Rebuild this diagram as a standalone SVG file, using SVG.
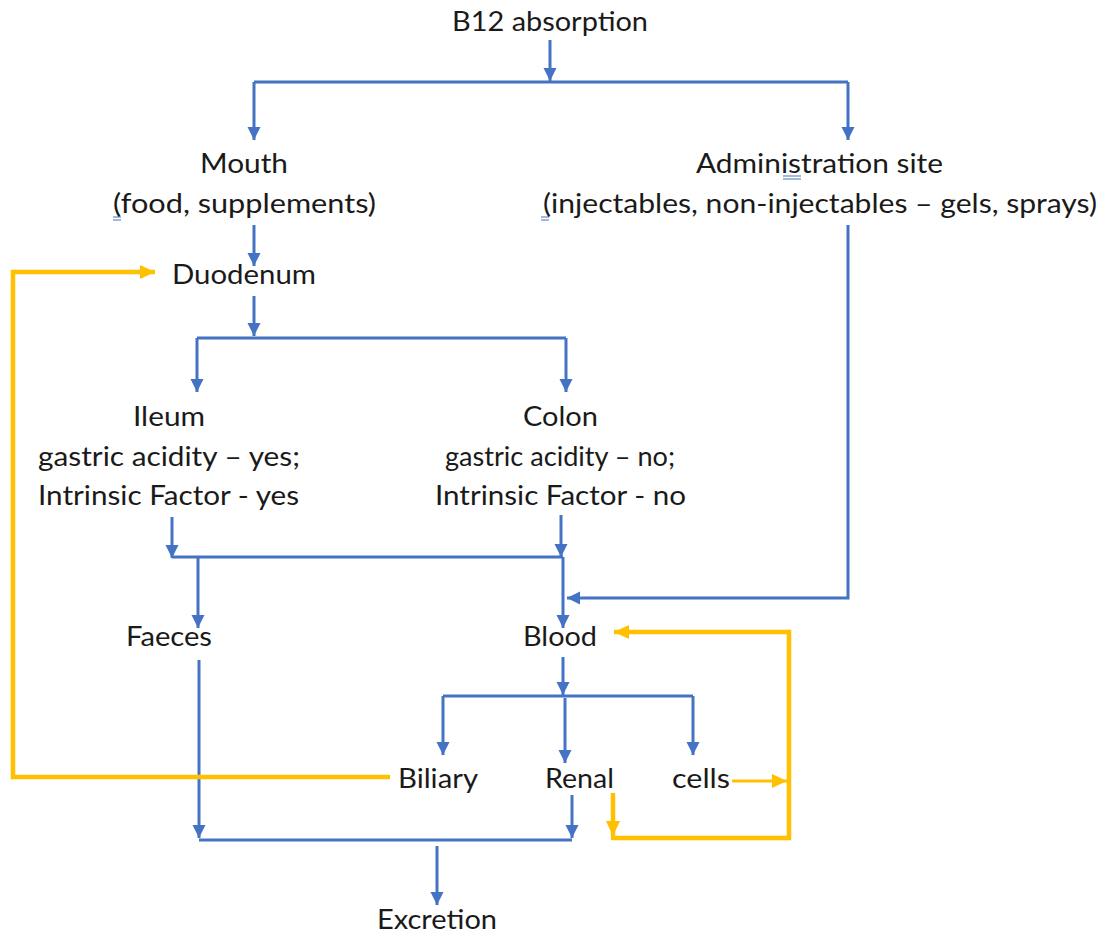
<svg xmlns="http://www.w3.org/2000/svg" width="1104" height="936" viewBox="0 0 1104 936">
<style>
text{font-family:Lato,"Open Sans","Liberation Sans",sans-serif;font-size:27px;fill:#1a1a1a;text-anchor:middle}
.b{fill:none;stroke:#4472C4;stroke-width:3}
.y{fill:none;stroke:#FFC000;stroke-width:4.5}
.yt{fill:none;stroke:#FFC000;stroke-width:3}
.mk{fill:none;stroke:#4472C4;stroke-width:1.2}
</style>
<defs>
<marker id="ab" markerUnits="userSpaceOnUse" markerWidth="14" markerHeight="14" refX="13" refY="7" orient="auto"><path d="M0,0.5 L13,7 L0,13.5 z" fill="#4472C4"/></marker>
<marker id="ay" markerUnits="userSpaceOnUse" markerWidth="16" markerHeight="16" refX="15" refY="8" orient="auto"><path d="M0,1 L15,8 L0,15 z" fill="#FFC000"/></marker>
</defs>
<rect width="1104" height="936" fill="#ffffff"/>
<g id="connectors">
<path class="b" d="M550,40 V81" marker-end="url(#ab)"/>
<path class="b" d="M254,82 H848"/>
<path class="b" d="M254,82 V140" marker-end="url(#ab)"/>
<path class="b" d="M848,82 V140" marker-end="url(#ab)"/>
<path class="b" d="M254,225 V266" marker-end="url(#ab)"/>
<path class="b" d="M254,296 V336" marker-end="url(#ab)"/>
<path class="b" d="M197,338 H566"/>
<path class="b" d="M197,338 V392" marker-end="url(#ab)"/>
<path class="b" d="M566,338 V392" marker-end="url(#ab)"/>
<path class="b" d="M172,517 V558" marker-end="url(#ab)"/>
<path class="b" d="M561,515 V557" marker-end="url(#ab)"/>
<path class="b" d="M172,557 H563"/>
<path class="b" d="M198,557 V628" marker-end="url(#ab)"/>
<path class="b" d="M563,557 V628" marker-end="url(#ab)"/>
<path class="b" d="M848,225 V598 H567" marker-end="url(#ab)"/>
<path class="b" d="M563,657 V695" marker-end="url(#ab)"/>
<path class="b" d="M443,696 H693"/>
<path class="b" d="M443,696 V755" marker-end="url(#ab)"/>
<path class="b" d="M565,698 V763" marker-end="url(#ab)"/>
<path class="b" d="M693,696 V755" marker-end="url(#ab)"/>
<path class="b" d="M199,660 V838" marker-end="url(#ab)"/>
<path class="b" d="M199,840 H572"/>
<path class="b" d="M572,795 V838" marker-end="url(#ab)"/>
<path class="b" d="M437,846 V905" marker-end="url(#ab)"/>
<path class="y" d="M390,777 H13 V272 H155" marker-end="url(#ay)"/>
<path class="yt" d="M732,781 H787" marker-end="url(#ay)"/>
<path class="y" d="M613,793 V836" marker-end="url(#ay)"/>
<path class="y" d="M611,838 H789 V632 H614" marker-end="url(#ay)"/>
</g>
<g id="marks">
<path class="mk" d="M113,217 H121 M113,220 H121"/>
<path class="mk" d="M541,217 H549 M541,220 H549"/>
<path class="mk" d="M783,176 H801 M783,179 H801"/>
</g>
<g id="n-b12"><text x="550" y="31" textLength="196" lengthAdjust="spacingAndGlyphs">B12 absorption</text></g>
<g id="n-mouth">
<text x="244" y="173" textLength="88" lengthAdjust="spacingAndGlyphs">Mouth</text>
<text x="244.5" y="213" textLength="263" lengthAdjust="spacingAndGlyphs">(food, supplements)</text>
</g>
<g id="n-admin">
<text x="819.5" y="173" textLength="247" lengthAdjust="spacingAndGlyphs">Administration site</text>
<text x="820" y="213" textLength="554" lengthAdjust="spacingAndGlyphs">(injectables, non-injectables – gels, sprays)</text>
</g>
<g id="n-duodenum"><text x="244" y="284" textLength="144" lengthAdjust="spacingAndGlyphs">Duodenum</text></g>
<g id="n-ileum">
<text x="169" y="426" textLength="72" lengthAdjust="spacingAndGlyphs">Ileum</text>
<text x="169" y="466" textLength="262" lengthAdjust="spacingAndGlyphs">gastric acidity – yes;</text>
<text x="168.5" y="505" textLength="261" lengthAdjust="spacingAndGlyphs">Intrinsic Factor - yes</text>
</g>
<g id="n-colon">
<text x="560.5" y="426" textLength="75" lengthAdjust="spacingAndGlyphs">Colon</text>
<text x="560" y="466" textLength="230" lengthAdjust="spacingAndGlyphs">gastric acidity – no;</text>
<text x="560.5" y="505" textLength="251" lengthAdjust="spacingAndGlyphs">Intrinsic Factor - no</text>
</g>
<g id="n-faeces"><text x="169" y="646" textLength="86" lengthAdjust="spacingAndGlyphs">Faeces</text></g>
<g id="n-blood"><text x="560" y="646" textLength="74" lengthAdjust="spacingAndGlyphs">Blood</text></g>
<g id="n-biliary"><text x="438" y="788" textLength="80" lengthAdjust="spacingAndGlyphs">Biliary</text></g>
<g id="n-renal"><text x="579.5" y="788" textLength="69" lengthAdjust="spacingAndGlyphs">Renal</text></g>
<g id="n-cells"><text x="701" y="788" textLength="58" lengthAdjust="spacingAndGlyphs">cells</text></g>
<g id="n-excretion"><text x="437" y="929" textLength="120" lengthAdjust="spacingAndGlyphs">Excretion</text></g>
</svg>
